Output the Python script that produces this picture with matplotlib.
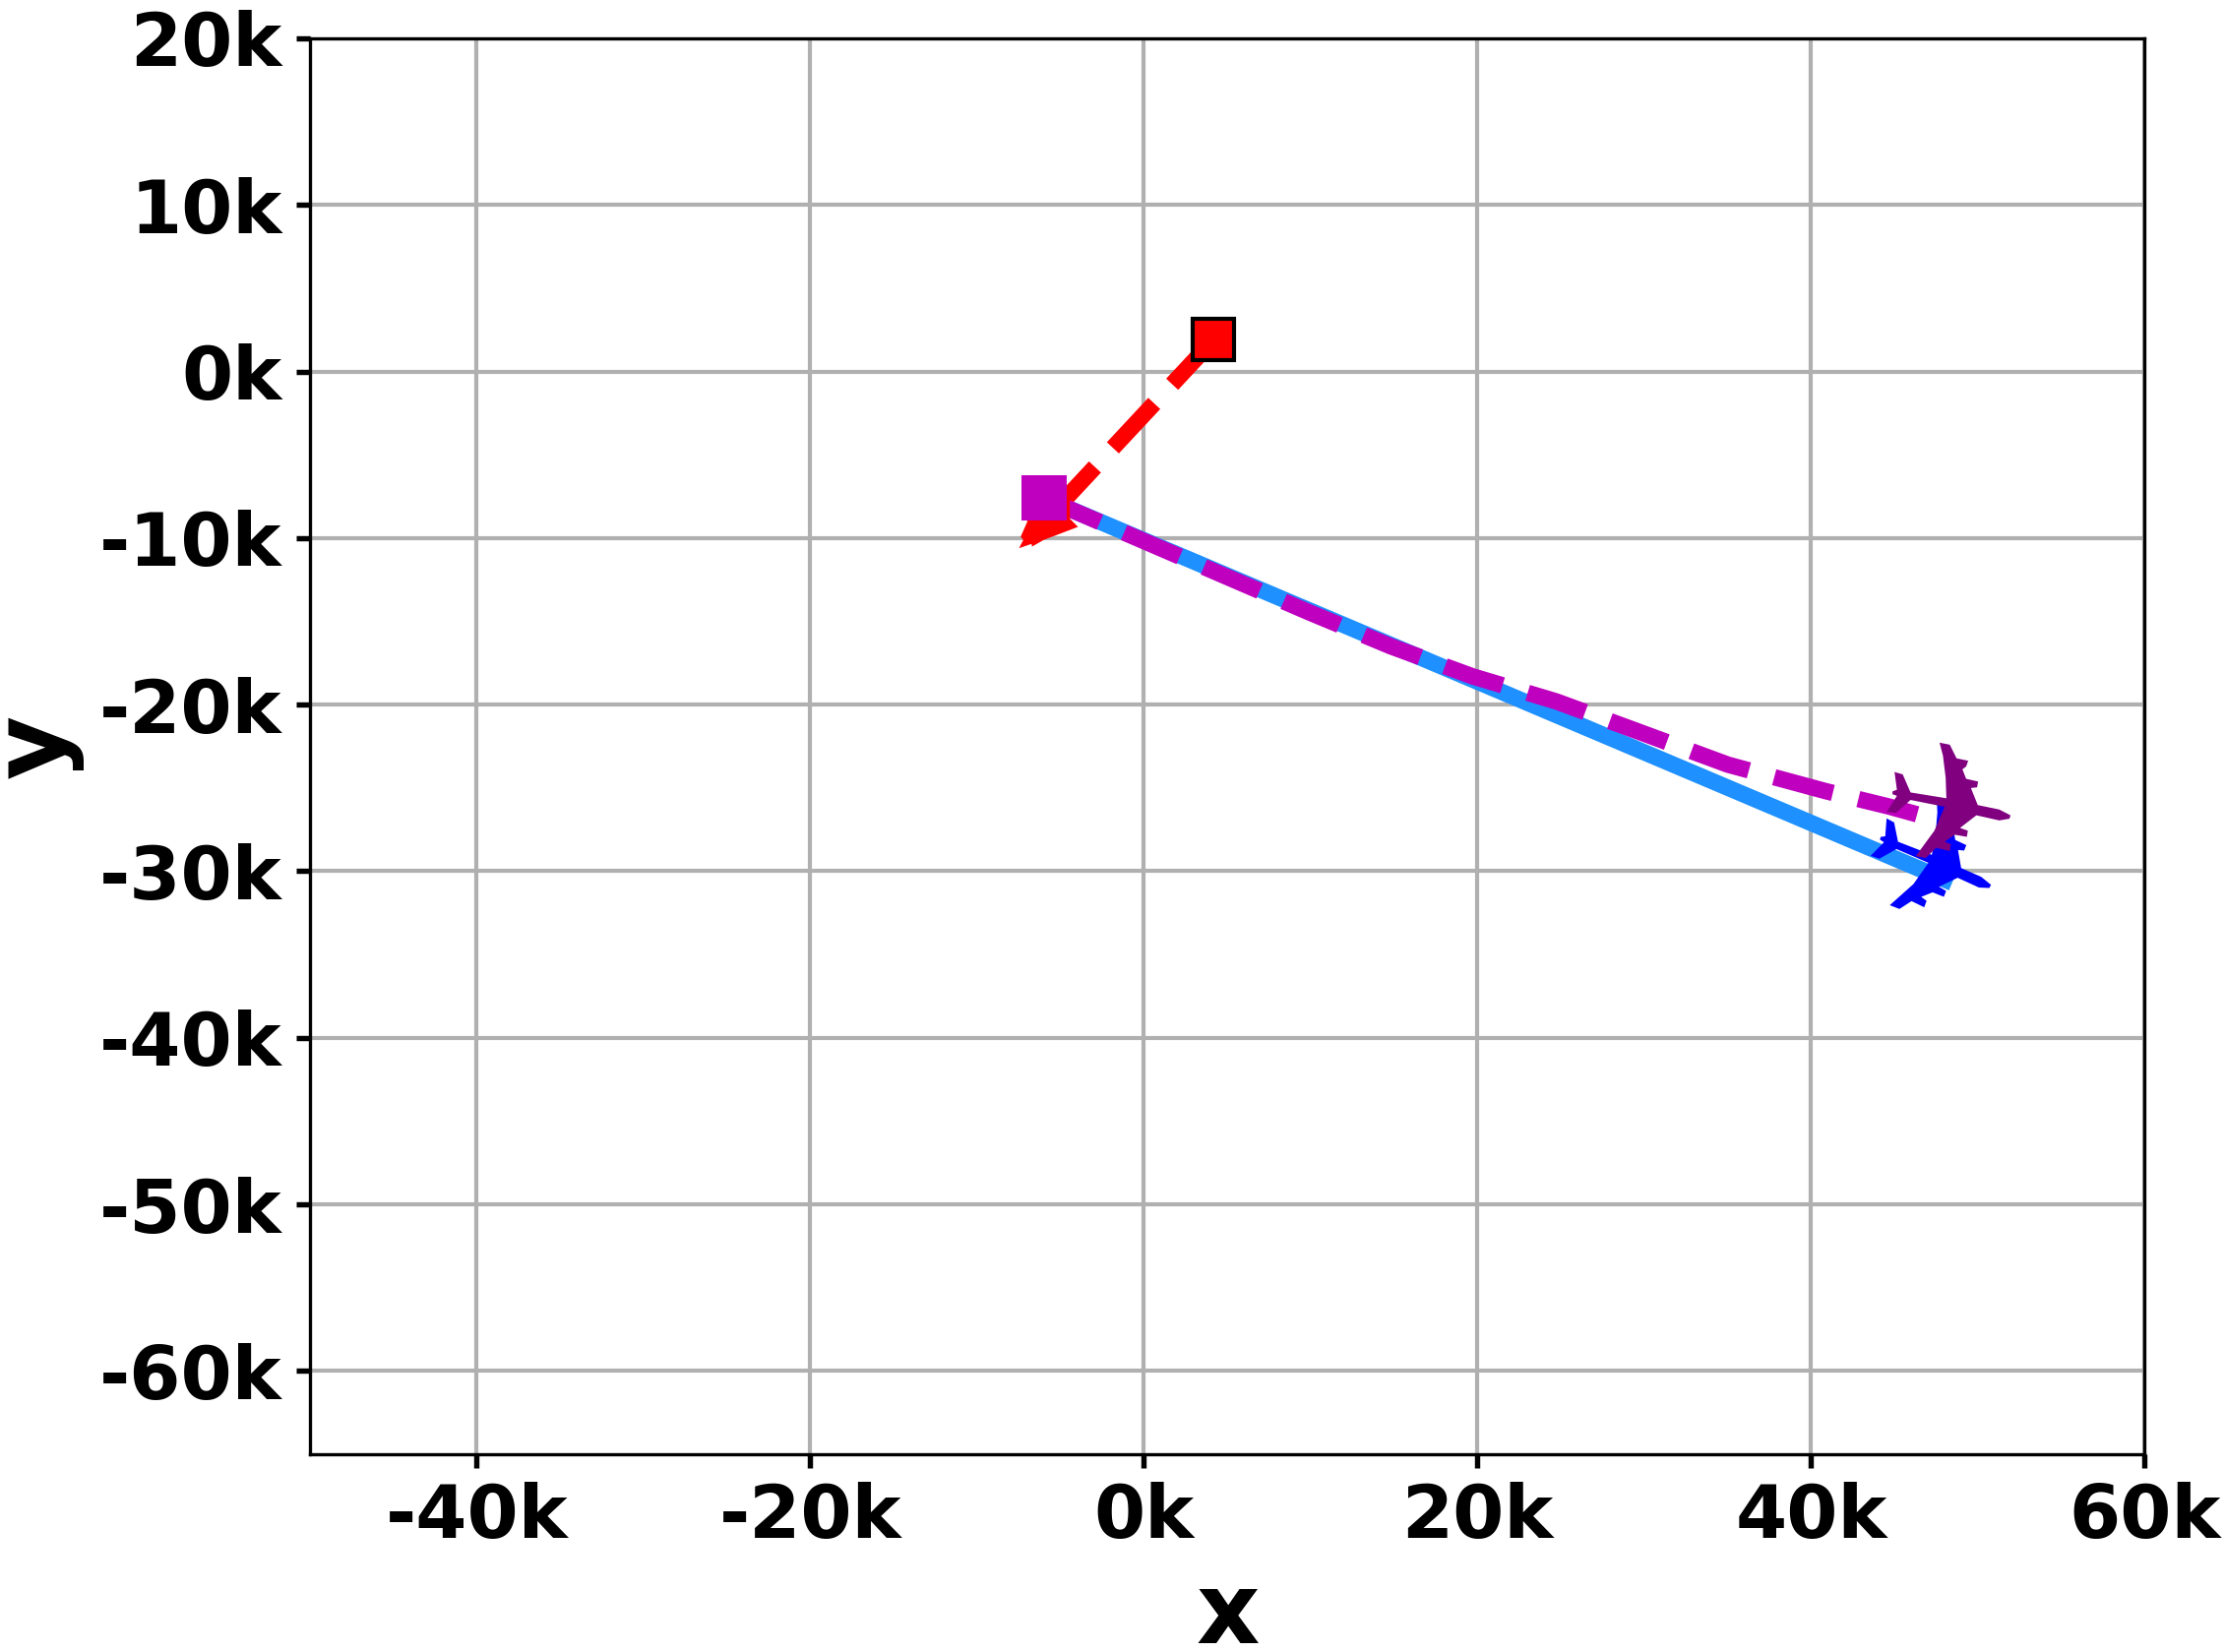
import numpy as np
import matplotlib
matplotlib.use("Agg")
import matplotlib.pyplot as plt
from matplotlib.markers import MarkerStyle
from matplotlib.path import Path
from matplotlib.ticker import FuncFormatter
from matplotlib.transforms import Affine2D

# trajectories
blue_x = [-5980, 48000]
blue_y = [-7600, -30500]
magenta_x = [-5980, 10000, 14800, 19700, 24700, 29600, 35000, 40900, 44600, 47500]
magenta_y = [-7600, -14500, -16500, -18300, -19800, -21600, -23600, -25200, -26100, -26900]
red_x = [4170, -5980]
red_y = [1900, -9000]

# aircraft positions
blue_plane = (47600, -29400)
purple_plane = (48500, -25900)
red_plane = (-5980, -7600)

x_ticks = [-40000, -20000, 0, 20000, 40000, 60000]
y_ticks = [20000, 10000, 0, -10000, -20000, -30000, -40000, -50000, -60000]

# aircraft outline, nose pointing along +x after the rotation below
plane = np.array([
    (578, 325), (545, 308), (482, 295), (462, 245), (480, 243), (483, 226), (448, 218),
    (437, 190), (448, 182), (454, 165), (420, 158), (400, 118), (370, 112), (380, 150),
    (388, 215), (390, 275), (285, 258), (262, 205), (238, 198), (245, 250), (232, 255),
    (232, 263), (245, 268), (215, 315), (242, 318), (285, 280), (385, 300), (355, 370),
    (300, 445), (330, 450), (360, 420), (400, 430), (403, 410), (385, 402), (415, 382),
    (450, 388), (453, 370), (430, 362), (478, 325), (545, 340), (575, 335), (578, 325),
], dtype=float)
plane = plane - [412, 290]
plane[:, 1] *= -1
plane_path = Path(Affine2D().rotate_deg(12).transform(plane), closed=True)

# the red aircraft is mostly hidden by the magenta square, only this part shows
red_shape = np.array([
    (190, 600), (320, 600), (320, 680), (345, 705), (240, 745), (205, 765), (203, 757),
    (165, 770), (178, 745), (170, 735), (190, 690), (190, 600),
], dtype=float)
red_shape = red_shape - [243, 618]
red_shape[:, 1] *= -1
red_path = Path(red_shape, closed=True)


def plane_marker(angle):
    return MarkerStyle(plane_path, transform=Affine2D().rotate_deg(angle))


fig = plt.figure(figsize=(2260 / 300, 1679 / 300), dpi=300)
ax = fig.add_axes([315 / 2260, 1 - 1478 / 1679, 1864.5 / 2260, 1439 / 1679])

ax.plot(blue_x, blue_y, color="dodgerblue", lw=4, zorder=3)
ax.plot(magenta_x, magenta_y, color="m", lw=4, ls="--", zorder=4)
ax.plot(red_x, red_y, color="r", lw=4, ls="--", zorder=3)

ax.plot(*blue_plane, marker=plane_marker(-24), ms=31.5, color="b", mew=0, zorder=5)
ax.plot(*purple_plane, marker=plane_marker(-12), ms=31.5, color="purple", mew=0, zorder=6)
ax.plot(*red_plane, marker=red_path, ms=24.3, color="r", mew=0, zorder=5)

ax.plot(red_x[0], red_y[0], "s", color="r", mec="k", mew=1, ms=10, zorder=7)
ax.plot(magenta_x[0], magenta_y[0], "s", color="m", mew=0, ms=11, zorder=7)

ax.set_xlim(-50000, 60000)
ax.set_ylim(-65000, 20000)
ax.set_xticks(x_ticks)
ax.set_yticks(y_ticks)
fmt = FuncFormatter(lambda v, pos: f"{v / 1000:.0f}k")
ax.xaxis.set_major_formatter(fmt)
ax.yaxis.set_major_formatter(fmt)
ax.tick_params(labelsize=18, width=1.3, length=3.3)
for lab in ax.get_xticklabels() + ax.get_yticklabels():
    lab.set_fontweight("bold")
ax.grid(True, lw=1)
ax.set_axisbelow(True)
ax.set_xlabel("x", fontsize=24, fontweight="bold", labelpad=3.5)
ax.set_ylabel("y", fontsize=24, fontweight="bold", labelpad=4)

fig.savefig("out.png", dpi=300)
